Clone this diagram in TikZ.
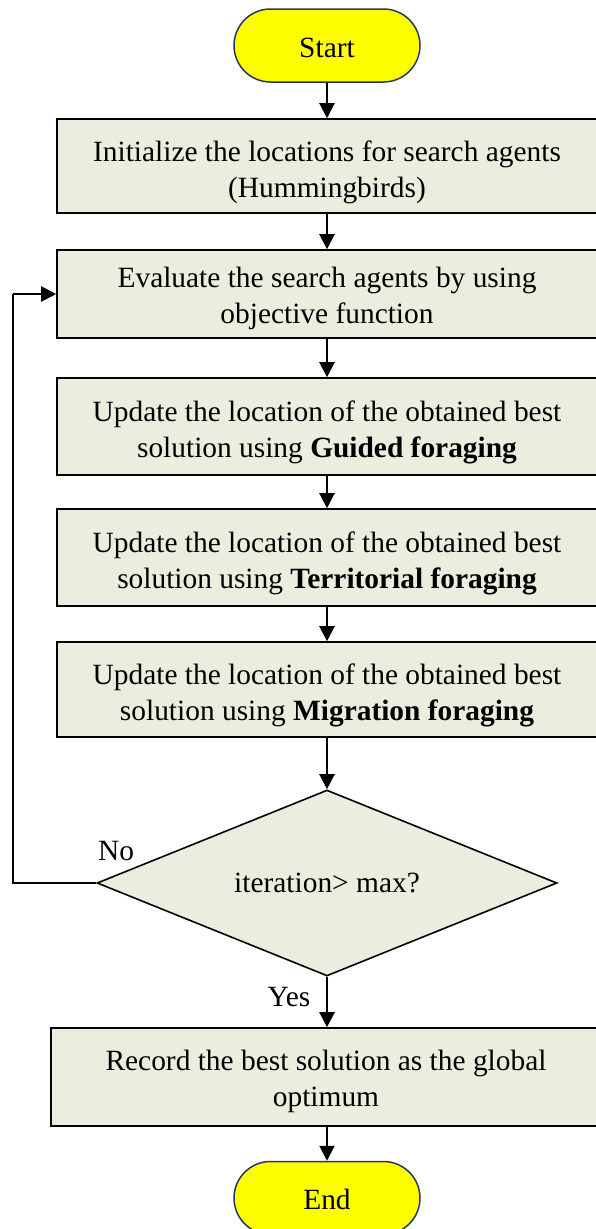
\documentclass[tikz,border=0pt]{standalone}
\usepackage{fontspec}
\setmainfont{Liberation Serif}
\usetikzlibrary{shapes.geometric,shapes.misc,arrows.meta}

\definecolor{boxfill}{RGB}{235,237,222}
\definecolor{termfill}{RGB}{255,255,0}
\definecolor{termline}{RGB}{36,56,92}

% centred lines, set a little below the geometric middle of the box
\newcommand\shiftedtext[2][-6pt]{%
  \raisebox{#1}[\height][\depth]{\begin{tabular}{@{}c@{}}#2\end{tabular}}}

\tikzset{
  every node/.style={font=\fontsize{29.4}{36}\selectfont},
  terminal/.style={rounded rectangle, draw=termline, line width=1.5pt, fill=termfill,
    minimum width=186pt, minimum height=73pt, inner sep=0pt},
  procbox/.style={rectangle, draw=black, line width=1.6pt, fill=boxfill,
    minimum width=540pt, inner sep=0pt},
  decision/.style={diamond, draw=black, line width=1.6pt, fill=boxfill,
    minimum width=460pt, minimum height=186pt, aspect=2.47, inner sep=0pt},
  flow/.style={line width=2.2pt, -{Triangle[length=15pt,width=15pt]}},
  plainline/.style={line width=2pt},
  lbl/.style={inner sep=0pt}
}

\begin{document}
\begin{tikzpicture}[x=1pt,y=-1pt]
  \useasboundingbox (0,0) rectangle (595,1229);

  \node[terminal] (start) at (327,45.5) {\shiftedtext[-5pt]{Start}};
  \node[procbox, minimum height=94pt] (b1) at (327,166)
    {\shiftedtext{Initialize the locations for search agents\\(Hummingbirds)}};
  \node[procbox, minimum height=88pt] (b2) at (327,294)
    {\shiftedtext[-4pt]{Evaluate the search agents by using\\objective function}};
  \node[procbox, minimum height=97pt] (b3) at (327,426.5)
    {\shiftedtext{Update the location of the obtained best\\solution using \textbf{Guided foraging}}};
  \node[procbox, minimum height=97pt] (b4) at (327,557.5)
    {\shiftedtext{Update the location of the obtained best\\solution using \textbf{Territorial foraging}}};
  \node[procbox, minimum height=95pt] (b5) at (327,689.5)
    {\shiftedtext{Update the location of the obtained best\\solution using \textbf{Migration foraging}}};
  \node[decision] (dec) at (327,883) {iteration> max?};
  \node[procbox, minimum width=550pt, minimum height=98pt] (b6) at (326,1077)
    {\shiftedtext[-4pt]{Record the best solution as the global\\optimum}};
  \node[terminal] (end) at (327,1198) {\shiftedtext[-4pt]{End}};

  \node[lbl] (no) at (116,851) {No};
  \node[lbl] (yes) at (289,997) {Yes};

  \coordinate (loopx) at (13,0);

  \draw[flow] (start.south) -- (start.south |- b1.north);
  \draw[flow] (b1.south) -- (b1.south |- b2.north);
  \draw[flow] (b2.south) -- (b2.south |- b3.north);
  \draw[flow] (b3.south) -- (b3.south |- b4.north);
  \draw[flow] (b4.south) -- (b4.south |- b5.north);
  \draw[flow] (b5.south) -- (dec.north);
  \draw[flow] (dec.south) -- (dec.south |- b6.north);
  \draw[flow] (b6.south -| end.north) -- (end.north);
  \draw[plainline] (dec.west) -- (dec.west -| loopx) -- (loopx |- b2.west);
  \draw[flow] (loopx |- b2.west) -- (b2.west);
\end{tikzpicture}
\end{document}
